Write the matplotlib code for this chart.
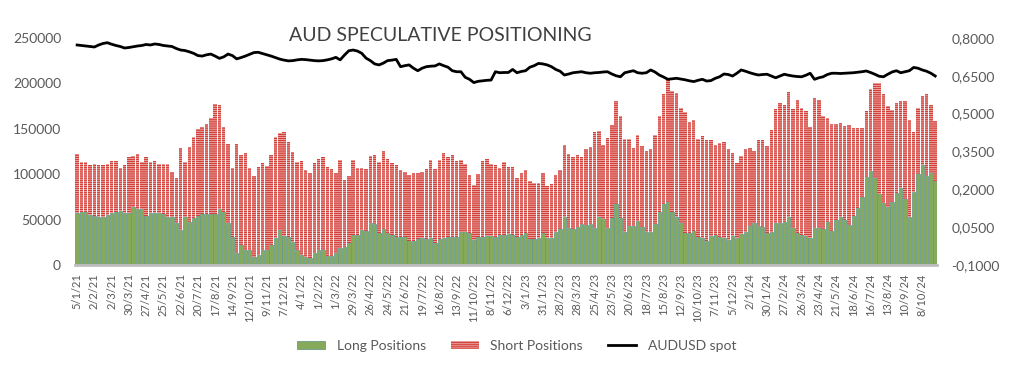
import matplotlib
matplotlib.use("Agg")
import matplotlib.pyplot as plt
import pandas as pd
from matplotlib.patches import Patch
from matplotlib.lines import Line2D

# CFTC weekly positioning, AUD (contracts, thousands)
long_pos = [
    57.6, 58.7, 58.0, 55.0, 54.0, 53.2, 53.2, 55.0, 56.9, 58.7,
    59.8, 56.9, 56.9, 64.2, 61.3, 62.0, 54.0, 57.6, 56.9, 56.9,
    56.1, 53.2, 53.2, 45.9, 38.5, 53.2, 47.7, 51.4, 54.3, 55.8,
    55.8, 55.8, 55.8, 62.0, 58.7, 45.9, 31.2, 12.8, 22.0, 16.5,
    16.5, 9.2, 11.0, 16.5, 16.5, 22.0, 29.4, 38.5, 32.0, 31.2,
    25.7, 16.5, 11.0, 9.2, 7.3, 13.6, 16.5, 16.5, 9.9, 9.9,
    12.8, 18.4, 20.2, 23.9, 33.0, 33.0, 38.5, 37.8, 45.9, 45.1,
    34.9, 39.3, 34.9, 33.0, 30.5, 30.5, 30.5, 26.8, 26.8, 28.3,
    29.4, 28.3, 29.4, 24.6, 28.3, 29.4, 30.5, 31.2, 31.2, 36.7,
    36.7, 34.9, 27.5, 30.5, 31.2, 31.9, 31.9, 31.2, 33.0, 33.0,
    34.1, 33.0, 31.2, 33.0, 34.9, 28.3, 28.3, 29.4, 34.9, 29.4,
    29.4, 36.7, 39.3, 52.5, 40.4, 39.3, 42.2, 45.1, 44.0, 45.1,
    40.4, 52.5, 50.3, 40.4, 51.4, 66.8, 52.1, 36.7, 43.3, 43.3,
    48.8, 41.5, 36.7, 36.7, 45.2, 58.7, 67.2, 69.7, 58.7, 52.5,
    45.9, 34.9, 34.9, 37.8, 30.5, 29.4, 26.8, 31.9, 33.0, 30.5,
    29.4, 27.5, 31.9, 29.4, 34.1, 36.7, 42.9, 45.9, 42.9, 41.5,
    35.6, 36.7, 45.9, 46.6, 47.7, 52.5, 40.4, 35.6, 33.0, 31.9,
    29.4, 40.4, 41.1, 39.3, 47.7, 37.8, 49.6, 52.5, 49.6, 44.1,
    54.0, 62.4, 75.2, 96.6, 104.0, 96.0, 78.5, 67.9, 63.5, 69.4,
    79.6, 84.7, 72.3, 53.2, 80.0, 100.2, 110.1, 98.5, 101.0, 92.0,
]

total_pos = [
    122.2, 113.4, 113.4, 110.1, 111.2, 110.1, 110.1, 111.2, 114.0, 114.0,
    107.0, 109.7, 118.9, 120.0, 122.2, 113.4, 118.9, 113.4, 114.9, 111.2,
    111.2, 110.8, 102.8, 96.2, 128.5, 113.4, 130.3, 140.6, 149.7, 152.3,
    155.2, 161.5, 177.3, 175.8, 152.3, 133.2, 107.0, 133.2, 121.1, 123.7,
    107.0, 98.0, 108.3, 111.9, 109.4, 121.1, 141.3, 145.0, 146.1, 135.4,
    124.0, 113.8, 114.5, 104.6, 100.9, 111.9, 116.3, 119.3, 108.3, 105.3,
    101.7, 115.6, 94.0, 97.5, 115.6, 106.4, 106.4, 105.7, 120.0, 121.1,
    113.8, 125.5, 116.3, 111.9, 110.1, 104.6, 102.8, 99.1, 101.7, 101.7,
    102.0, 105.7, 115.6, 105.3, 115.6, 122.9, 118.5, 121.1, 114.9, 115.6,
    111.2, 99.1, 88.1, 100.2, 114.5, 116.3, 111.2, 110.1, 107.2, 113.4,
    108.3, 107.5, 95.4, 100.9, 104.6, 92.9, 89.9, 89.9, 100.9, 87.0,
    89.2, 99.1, 104.6, 132.1, 122.2, 119.3, 121.1, 119.3, 127.3, 130.3,
    146.8, 147.5, 132.1, 140.2, 154.1, 180.6, 164.0, 138.4, 138.4, 128.5,
    143.1, 131.1, 125.9, 127.4, 143.2, 164.1, 188.3, 203.7, 191.6, 189.8,
    173.3, 168.9, 157.8, 159.7, 138.4, 142.1, 137.7, 137.7, 132.2, 134.0,
    135.8, 127.4, 123.0, 112.0, 120.0, 127.4, 129.2, 125.6, 137.7, 137.7,
    131.4, 148.7, 171.4, 178.0, 176.2, 190.2, 171.4, 181.7, 172.5, 169.6,
    151.6, 183.5, 181.7, 164.1, 161.5, 155.3, 155.3, 156.0, 153.1, 154.2,
    151.2, 151.2, 151.2, 169.6, 193.8, 200.0, 200.0, 188.3, 175.1, 170.7,
    178.0, 180.6, 180.6, 159.6, 146.8, 172.5, 186.1, 188.3, 176.0, 158.5,
]

audusd = [
    0.772, 0.770, 0.768, 0.766, 0.764, 0.772, 0.778, 0.781, 0.775, 0.770,
    0.766, 0.760, 0.762, 0.765, 0.768, 0.770, 0.774, 0.772, 0.776, 0.774,
    0.770, 0.768, 0.766, 0.758, 0.752, 0.750, 0.745, 0.739, 0.730, 0.728,
    0.733, 0.736, 0.728, 0.719, 0.725, 0.736, 0.730, 0.717, 0.722, 0.728,
    0.735, 0.742, 0.743, 0.738, 0.733, 0.728, 0.722, 0.716, 0.712, 0.709,
    0.710, 0.713, 0.715, 0.714, 0.712, 0.710, 0.709, 0.710, 0.713, 0.717,
    0.723, 0.713, 0.732, 0.749, 0.752, 0.748, 0.739, 0.720, 0.710, 0.697,
    0.693, 0.700, 0.710, 0.712, 0.715, 0.686, 0.690, 0.693, 0.680, 0.670,
    0.680, 0.686, 0.688, 0.689, 0.697, 0.690, 0.684, 0.670, 0.666, 0.666,
    0.644, 0.636, 0.623, 0.628, 0.630, 0.632, 0.633, 0.666, 0.662, 0.663,
    0.663, 0.675, 0.662, 0.667, 0.670, 0.684, 0.690, 0.699, 0.697, 0.693,
    0.686, 0.675, 0.668, 0.653, 0.657, 0.662, 0.664, 0.666, 0.662, 0.660,
    0.662, 0.663, 0.665, 0.666, 0.657, 0.650, 0.646, 0.662, 0.666, 0.670,
    0.662, 0.660, 0.662, 0.673, 0.665, 0.653, 0.645, 0.636, 0.638, 0.640,
    0.637, 0.634, 0.630, 0.627, 0.632, 0.636, 0.629, 0.631, 0.640, 0.646,
    0.657, 0.655, 0.649, 0.660, 0.673, 0.668, 0.662, 0.657, 0.653, 0.655,
    0.656, 0.649, 0.642, 0.649, 0.656, 0.652, 0.649, 0.647, 0.646, 0.652,
    0.660, 0.636, 0.642, 0.646, 0.655, 0.660, 0.660, 0.659, 0.660, 0.661,
    0.662, 0.664, 0.666, 0.669, 0.663, 0.656, 0.648, 0.646, 0.656, 0.665,
    0.670, 0.662, 0.666, 0.670, 0.683, 0.680, 0.673, 0.668, 0.660, 0.649,
]

dates = pd.date_range("2021-01-05", periods=len(long_pos), freq="7D")
date_labels = [f"{d.day}/{d.month}/{d.year % 100}" for d in dates]

long_k = [v * 1000 for v in long_pos]
short_k = [(t - l) * 1000 for t, l in zip(total_pos, long_pos)]
x = range(len(long_pos))

plt.rcParams["font.family"] = ["Lato", "DejaVu Sans"]
plt.rcParams["hatch.linewidth"] = 1.0
grey = "#595959"
green, green_edge = "#86AA5C", "#6A9A8C"
red_face, red_line = "#F2C8C6", "#D4413A"

fig = plt.figure(figsize=(10.23, 3.83), dpi=100)
ax = fig.add_axes([0.0733, 0.308, 0.843, 0.593])

ax.bar(x, long_k, width=0.8, color=green, edgecolor=green_edge, linewidth=0.6)
ax.bar(x, short_k, bottom=long_k, width=0.8, color=red_face,
       edgecolor=red_line, hatch="--------", linewidth=0)

ax.set_xlim(-0.5, len(long_pos) - 0.5)
ax.set_ylim(0, 250000)
ax.set_yticks(range(0, 250001, 50000))
ax.tick_params(axis="y", length=0, labelsize=10, labelcolor=grey, pad=10)
ax.set_xticks(list(x)[::4])
ax.set_xticklabels(date_labels[::4], rotation=90, fontsize=8, color=grey)
ax.tick_params(axis="x", length=0, pad=6)
for s in ["top", "left", "right"]:
    ax.spines[s].set_visible(False)
ax.spines["bottom"].set_color("#BFBFBF")
ax.spines["bottom"].set_linewidth(2)

ax2 = ax.twinx()
ax2.plot(list(x), audusd, color="black", linewidth=2)
ax2.set_ylim(-0.1, 0.8)
rt = [-0.1, 0.05, 0.2, 0.35, 0.5, 0.65, 0.8]
ax2.set_yticks(rt)
ax2.set_yticklabels([f"{v:.4f}".replace(".", ",") for v in rt])
ax2.tick_params(axis="y", length=0, labelsize=10, labelcolor=grey, pad=10)
for s in ax2.spines.values():
    s.set_visible(False)

fig.text(0.430, 0.907, "AUD SPECULATIVE POSITIONING", ha="center", va="center",
         fontsize=14, color="#404040")

handles = [
    Patch(facecolor=green, edgecolor=green_edge, linewidth=0.6),
    Patch(facecolor=red_face, edgecolor=red_line, hatch="--------", linewidth=0),
    Line2D([0], [0], color="black", linewidth=2),
]
fig.legend(handles, ["Long Positions", "Short Positions", "AUDUSD spot"],
           loc="center", bbox_to_anchor=(0.505, 0.097), ncol=3, frameon=False,
           fontsize=10, labelcolor=grey, handlelength=2.0, handleheight=0.5,
           columnspacing=1.8, handletextpad=0.85)

fig.savefig("out.png", dpi=100)
